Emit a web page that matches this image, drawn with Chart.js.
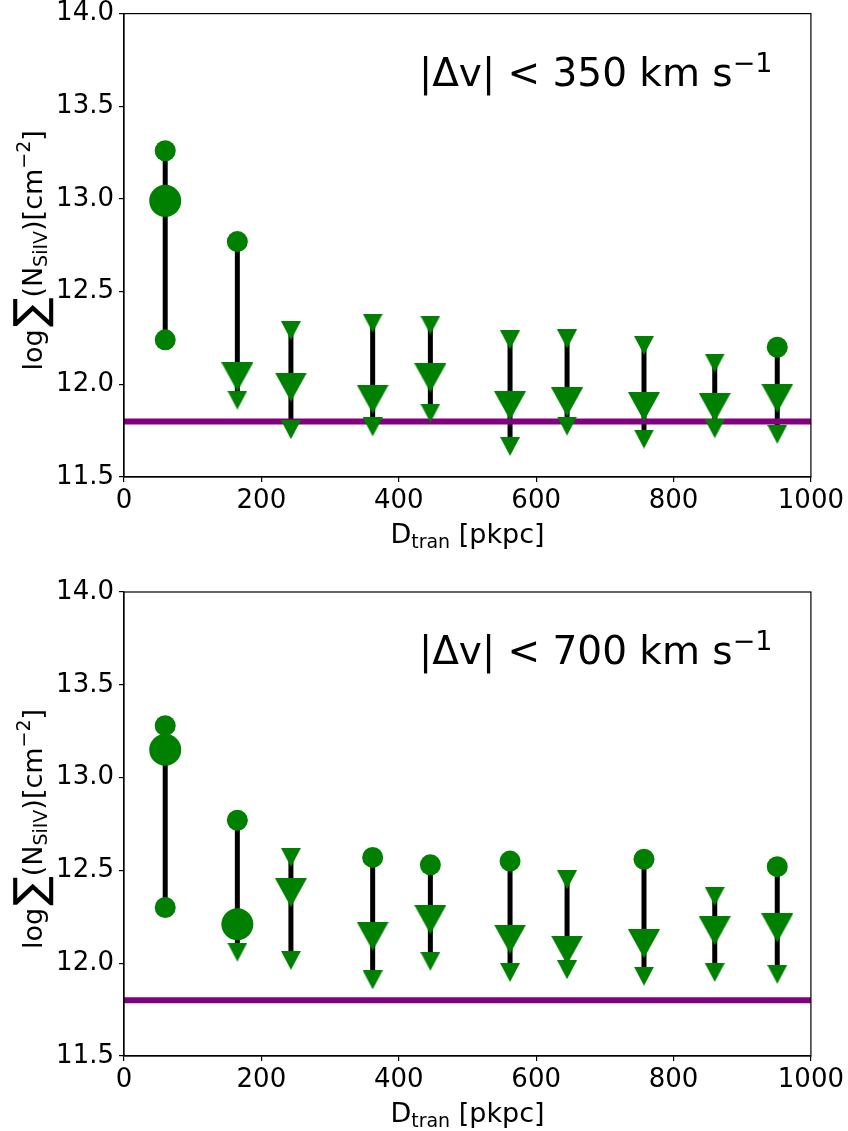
<!DOCTYPE html>
<html>
<head>
    <title>Si IV column density vs transverse distance</title>
    <script src="https://cdn.jsdelivr.net/npm/chart.js"></script>
    <style>
        body {
            margin: 0;
            background: white;
            font-family: "DejaVu Sans", sans-serif;
            overflow: hidden;
        }
        .panel {
            position: absolute;
            left: 0;
        }
        #top { top: -7px; }
        #bottom { top: 565px; }
    </style>
</head>
<body>
    <div class="panel" id="top"><canvas id="chart350" width="848" height="572"></canvas></div>
    <div class="panel" id="bottom"><canvas id="chart700" width="848" height="566"></canvas></div>

    <script>
        // bin centres (pkpc)
        const xBins = [60, 165, 243, 362, 446, 562, 645, 757, 860, 951];

        // |dv| < 350 km/s
        const upper350 = [13.26, 12.77, 12.29, 12.33, 12.32, 12.24, 12.245, 12.21, 12.115, 12.20];
        const upperKind350 = ['det', 'det', 'lim', 'lim', 'lim', 'lim', 'lim', 'lim', 'lim', 'det'];
        const median350 = [12.99, 12.04, 11.985, 11.92, 12.035, 11.885, 11.905, 11.88, 11.875, 11.925];
        const medianKind350 = ['det', 'lim', 'lim', 'lim', 'lim', 'lim', 'lim', 'lim', 'lim', 'lim'];
        const lower350 = [12.24, 11.915, 11.755, 11.77, 11.845, 11.665, 11.775, 11.705, 11.76, 11.73];
        const lowerKind350 = ['det', 'lim', 'lim', 'lim', 'lim', 'lim', 'lim', 'lim', 'lim', 'lim'];

        // |dv| < 700 km/s
        const upper700 = [13.28, 12.77, 12.57, 12.57, 12.53, 12.55, 12.45, 12.56, 12.36, 12.52];
        const upperKind700 = ['det', 'det', 'lim', 'det', 'det', 'det', 'lim', 'det', 'lim', 'det'];
        const median700 = [13.15, 12.21, 12.38, 12.145, 12.235, 12.13, 12.07, 12.105, 12.175, 12.19];
        const medianKind700 = ['det', 'det', 'lim', 'lim', 'lim', 'lim', 'lim', 'lim', 'lim', 'lim'];
        const lower700 = [12.30, 12.06, 12.015, 11.91, 12.01, 11.95, 11.965, 11.93, 11.95, 11.94];
        const lowerKind700 = ['det', 'lim', 'lim', 'lim', 'lim', 'lim', 'lim', 'lim', 'lim', 'lim'];

        // detection limit
        const floorLevel = 11.8;

        const xTicks = [0, 200, 400, 600, 800, 1000];
        const yTicks = [11.5, 12.0, 12.5, 13.0, 13.5, 14.0];

        const GREEN = '#008000';
        const PURPLE = '#800080';
        const FONT = '"DejaVu Sans", sans-serif';

        // matplotlib-like 'v' markers
        function triangle(w, h) {
            const c = document.createElement('canvas');
            c.width = w;
            c.height = h;
            const g = c.getContext('2d');
            g.fillStyle = GREEN;
            g.beginPath();
            g.moveTo(0, 0);
            g.lineTo(w, 0);
            g.lineTo(w / 2, h);
            g.closePath();
            g.fill();
            return c;
        }
        const smallTri = triangle(20, 19);
        const bigTri = triangle(32, 29);

        function markerSet(values, kinds, big) {
            return {
                data: xBins.map((x, i) => ({ x: x, y: values[i] })),
                pointStyle: kinds.map(k => k === 'det' ? 'circle' : (big ? bigTri : smallTri)),
                pointRadius: kinds.map(() => big ? 16 : 10.5),
                pointBackgroundColor: GREEN,
                pointBorderColor: GREEN,
                pointBorderWidth: 0,
                showLine: false,
                order: 1
            };
        }

        function rangeSet(lo, hi) {
            const pts = [];
            xBins.forEach((x, i) => {
                pts.push({ x: x, y: lo[i] }, { x: x, y: hi[i] }, { x: x, y: null });
            });
            return {
                data: pts,
                showLine: true,
                spanGaps: false,
                borderColor: '#000',
                borderWidth: 5,
                pointRadius: 0,
                order: 4
            };
        }

        function floorSet() {
            return {
                data: [{ x: xTicks[0], y: floorLevel }, { x: xTicks[xTicks.length - 1], y: floorLevel }],
                showLine: true,
                borderColor: PURPLE,
                borderWidth: 6,
                pointRadius: 0,
                order: 3
            };
        }

        // draw text pieces (sub/superscripts) one after another
        function runsWidth(ctx, runs) {
            let w = 0;
            runs.forEach(r => {
                ctx.font = r.s + 'px ' + FONT;
                w += ctx.measureText(r.t).width + (r.gap || 0);
            });
            return w;
        }
        function drawRuns(ctx, runs, x, y) {
            runs.forEach(r => {
                ctx.font = r.s + 'px ' + FONT;
                ctx.fillText(r.t, x, y + (r.dy || 0));
                x += ctx.measureText(r.t).width + (r.gap || 0);
            });
        }

        function textPlugin(speed) {
            return {
                id: 'labels' + speed,
                afterDraw(chart) {
                    const ctx = chart.ctx;
                    const a = chart.chartArea;
                    ctx.save();
                    ctx.fillStyle = '#000';
                    ctx.textBaseline = 'alphabetic';
                    ctx.textAlign = 'left';

                    // frame
                    ctx.strokeStyle = '#000';
                    ctx.lineWidth = 1.2;
                    ctx.strokeRect(a.left, a.top, a.right - a.left, a.bottom - a.top);

                    // panel annotation
                    drawRuns(ctx, [
                        { t: '|\u0394v| < ' + speed + ' km s', s: 39 },
                        { t: '\u22121', s: 27, dy: -14 }
                    ], a.left + 295, a.top + 72);

                    // x label
                    const xRuns = [
                        { t: 'D', s: 27 },
                        { t: 'tran', s: 19, dy: 5 },
                        { t: ' [pkpc]', s: 27 }
                    ];
                    const xw = runsWidth(ctx, xRuns);
                    drawRuns(ctx, xRuns, (a.left + a.right) / 2 - xw / 2, a.bottom + 66);

                    // y label
                    const yRuns = [
                        { t: 'log', s: 27, gap: 2 },
                        { t: '\u2211', s: 44, dy: 3 },
                        { t: '(N', s: 27 },
                        { t: 'SiIV', s: 19, dy: 5 },
                        { t: ')[cm', s: 27 },
                        { t: '\u22122', s: 19, dy: -12 },
                        { t: ']', s: 27 }
                    ];
                    const yw = runsWidth(ctx, yRuns);
                    ctx.translate(42, (a.top + a.bottom) / 2 + 5);
                    ctx.rotate(-Math.PI / 2);
                    drawRuns(ctx, yRuns, -yw / 2, 0);
                    ctx.restore();
                }
            };
        }

        function makeChart(id, speed, upper, upperKind, median, medianKind, lower, lowerKind, padTop, xAxisHeight) {
            const ctx = document.getElementById(id).getContext('2d');
            return new Chart(ctx, {
                type: 'scatter',
                data: {
                    datasets: [
                        markerSet(median, medianKind, true),
                        markerSet(upper, upperKind, false),
                        markerSet(lower, lowerKind, false),
                        floorSet(),
                        rangeSet(lower, upper)
                    ]
                },
                options: {
                    responsive: false,
                    animation: false,
                    layout: { padding: { top: padTop, right: 36, left: 0, bottom: 0 } },
                    plugins: {
                        legend: { display: false },
                        tooltip: { enabled: false }
                    },
                    scales: {
                        x: {
                            type: 'linear',
                            min: 0,
                            max: 1000,
                            afterBuildTicks: s => { s.ticks = xTicks.map(v => ({ value: v })); },
                            afterFit: s => { s.height = xAxisHeight; },
                            grid: { display: true, drawOnChartArea: false, drawTicks: true, tickLength: 5, color: '#000', lineWidth: 1.2 },
                            border: { display: true, color: '#000', width: 1.2 },
                            ticks: {
                                color: '#000',
                                padding: 4,
                                maxRotation: 0,
                                font: { family: FONT, size: 26 },
                                callback: v => String(v)
                            }
                        },
                        y: {
                            type: 'linear',
                            min: 11.5,
                            max: 14.0,
                            afterBuildTicks: s => { s.ticks = yTicks.map(v => ({ value: v })); },
                            afterFit: s => { s.width = 124; },
                            grid: { display: true, drawOnChartArea: false, drawTicks: true, tickLength: 5, color: '#000', lineWidth: 1.2 },
                            border: { display: true, color: '#000', width: 1.2 },
                            ticks: {
                                color: '#000',
                                padding: 5,
                                font: { family: FONT, size: 26 },
                                callback: v => v.toFixed(1)
                            }
                        }
                    }
                },
                plugins: [textPlugin(speed)]
            });
        }

        makeChart('chart350', 350, upper350, upperKind350, median350, medianKind350, lower350, lowerKind350, 20, 88);
        makeChart('chart700', 700, upper700, upperKind700, median700, medianKind700, lower700, lowerKind700, 27, 75);
    </script>
</body>
</html>
